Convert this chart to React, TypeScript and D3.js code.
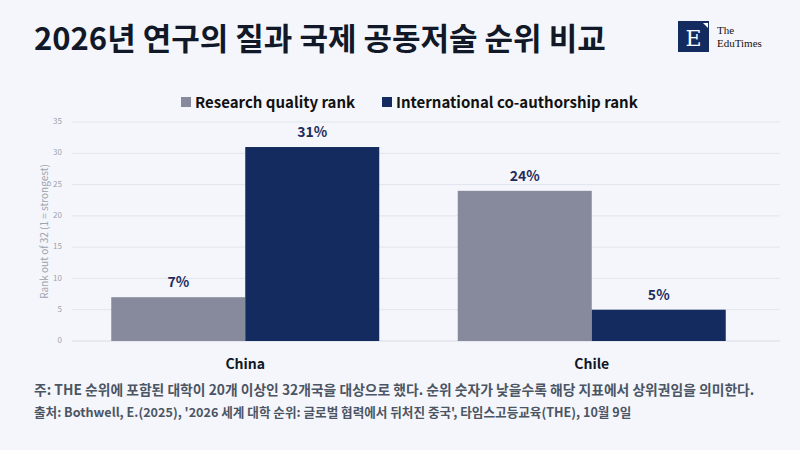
import * as d3 from 'd3';

const categories = ['China', 'Chile'];
const seriesNames = ['Research quality rank', 'International co-authorship rank'];
const researchQuality = [7, 24];
const coAuthorship = [31, 5];
const yTicks = [0, 5, 10, 15, 20, 25, 30, 35];

const COLORS = ['#868a9c', '#142b5f'];
const BG = '#f5f6fb';
const FONT = "'Noto Sans CJK KR', 'Noto Sans', sans-serif";

export default function App() {
  const width = 800;
  const height = 450;
  const x = d3.scaleBand().domain(categories).range([72, 765]);
  const inner = d3.scaleBand().domain(seriesNames).range([0, x.bandwidth()]).paddingOuter(0.293);
  const y = d3.scaleLinear().domain([0, 35]).range([341, 122]);
  const values = [researchQuality, coAuthorship];

  return (
    <svg width={width} height={height} style={{ position: 'absolute', left: 0, top: 0, background: BG }} fontFamily={FONT}>
      <rect width={width} height={height} fill={BG} />
      <text x={34} y={50} fontSize={31} fontWeight={700} fill='#111827'>2026년 연구의 질과 국제 공동저술 순위 비교</text>

      {/* logo */}
      <rect x={678} y={21} width={31} height={31} fill='#142b5f' />
      <text x={693.5} y={46} textAnchor='middle' fontSize={22} fill='#fff' fontFamily="'DejaVu Serif', serif">E</text>
      <path d='M703 23 L708 23 L708 28 Z' fill='#fff' />
      <text x={717} y={34} fontSize={11} fill='#111' fontFamily="'Liberation Serif', serif">The</text>
      <text x={717} y={47} fontSize={11} fill='#111' fontFamily="'Liberation Serif', serif">EduTimes</text>

      {/* legend */}
      {seriesNames.map((s, i) => {
        const lx = i === 0 ? 181 : 382;
        return (
          <g key={s}>
            <rect x={lx} y={97} width={10} height={10} fill={COLORS[i]} />
            <text x={lx + 14} y={108} fontSize={15} fontWeight={700} fill='#111'>{s}</text>
          </g>
        );
      })}

      {/* grid */}
      {yTicks.map((t) => (
        <g key={t}>
          <line x1={72} x2={780} y1={y(t)} y2={y(t)} stroke={t === 0 ? '#d6d9e3' : '#e3e5ec'} />
          <text x={62} y={y(t)} textAnchor='end' dominantBaseline='middle' fontSize={8} fill='#9ca3af'>{t}</text>
        </g>
      ))}
      <text transform={`translate(48,${y(17.5)}) rotate(-90)`} textAnchor='middle' fontSize={10} fill='#9ca3af'>Rank out of 32 (1 = strongest)</text>

      {categories.map((c, ci) => (
        <g key={c}>
          {seriesNames.map((s, si) => {
            const v = values[si][ci];
            const bx = (x(c) ?? 0) + (inner(s) ?? 0);
            return (
              <g key={s}>
                <rect x={bx} y={y(v)} width={inner.bandwidth()} height={y(0) - y(v)} fill={COLORS[si]} />
                <text x={bx + inner.bandwidth() / 2} y={y(v) - 10} textAnchor='middle' fontSize={14} fontWeight={700} fill='#1f2d5c'>{v}%</text>
              </g>
            );
          })}
          <text x={(x(c) ?? 0) + x.bandwidth() / 2} y={369} textAnchor='middle' fontSize={14} fontWeight={700} fill='#111827'>{c}</text>
        </g>
      ))}

      <text x={34} y={395} fontSize={13.8} fontWeight={700} fill='#4b5563'>주: THE 순위에 포함된 대학이 20개 이상인 32개국을 대상으로 했다. 순위 숫자가 낮을수록 해당 지표에서 상위권임을 의미한다.</text>
      <text x={34} y={417} fontSize={12.6} fontWeight={700} fill='#4b5563'>출처: Bothwell, E.(2025), '2026 세계 대학 순위: 글로벌 협력에서 뒤처진 중국', 타임스고등교육(THE), 10월 9일</text>
    </svg>
  );
}
